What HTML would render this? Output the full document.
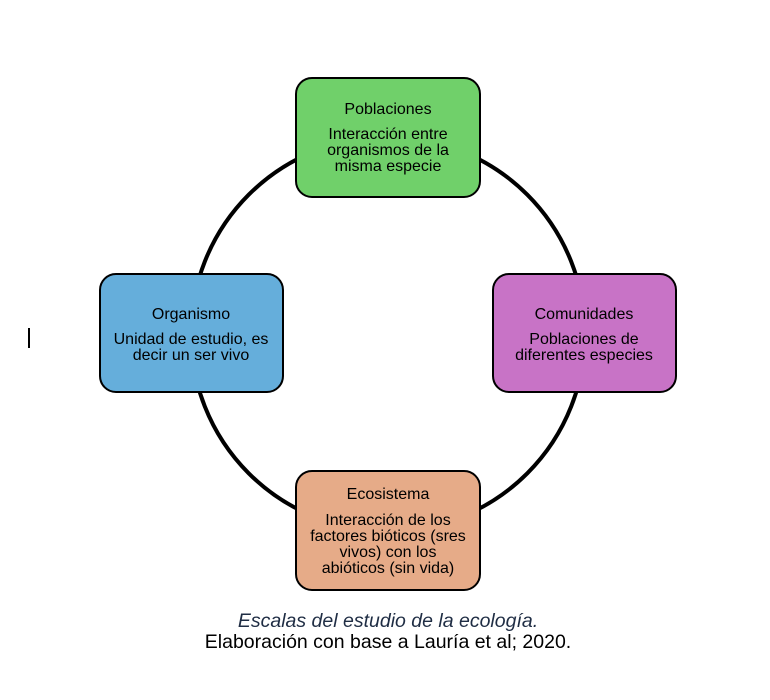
<!DOCTYPE html>
<html><head><meta charset="utf-8"><style>
html,body{margin:0;padding:0;background:#fff;}
svg{display:block;}
text{font-family:"Liberation Sans",Arial,sans-serif;font-size:16px;fill:#000;}
</style></head><body>
<svg width="770" height="700" viewBox="0 0 770 700" xmlns="http://www.w3.org/2000/svg">
<rect width="770" height="700" fill="#fff"/>
<circle cx="388" cy="334" r="197" fill="none" stroke="#000" stroke-width="4"/>
<rect x="28" y="328" width="2" height="20" fill="#000"/>
<rect x="296" y="78" width="184" height="119" rx="16" fill="#70d06a" stroke="#000" stroke-width="2"/>
<rect x="100" y="274" width="183" height="118" rx="16" fill="#65aedb" stroke="#000" stroke-width="2"/>
<rect x="493" y="274" width="183" height="118" rx="16" fill="#c873c6" stroke="#000" stroke-width="2"/>
<rect x="296" y="471" width="184" height="119" rx="16" fill="#e6ab88" stroke="#000" stroke-width="2"/>
<g text-anchor="middle">
<text x="388" y="114">Poblaciones</text>
<text x="388" y="139">Interacción entre</text>
<text x="388" y="155">organismos de la</text>
<text x="388" y="171">misma especie</text>
<text x="191" y="319">Organismo</text>
<text x="191" y="344">Unidad de estudio, es</text>
<text x="191" y="360">decir un ser vivo</text>
<text x="584" y="319">Comunidades</text>
<text x="584" y="344">Poblaciones de</text>
<text x="584" y="360">diferentes especies</text>
<text x="388" y="499">Ecosistema</text>
<text x="388" y="525">Interacción de los</text>
<text x="388" y="541">factores bióticos (sres</text>
<text x="388" y="557">vivos) con los</text>
<text x="388" y="573">abióticos (sin vida)</text>
<text x="388" y="627" style="font-size:19.5px;font-style:italic;fill:#1f2d44">Escalas del estudio de la ecología.</text>
<text x="388" y="648" style="font-size:19.5px">Elaboración con base a Lauría et al; 2020.</text>
</g>
</svg>
</body></html>
